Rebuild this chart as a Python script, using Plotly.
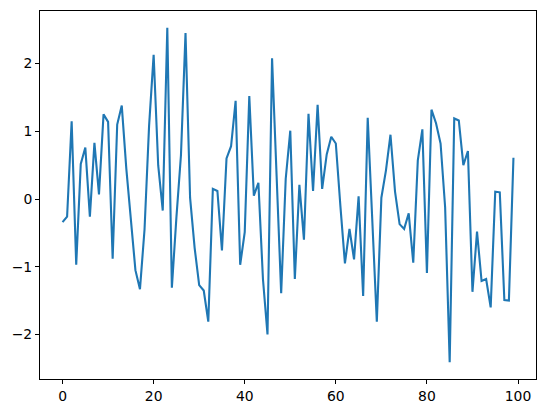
import plotly.graph_objects as go

x_values = list(range(100))
y_values = [
    -0.34, -0.26, 1.15, -0.97, 0.52, 0.76, -0.26, 0.83, 0.07, 1.25,
    1.14, -0.88, 1.10, 1.38, 0.45, -0.35, -1.05, -1.33, -0.45, 1.08,
    2.13, 0.50, -0.17, 2.53, -1.31, -0.27, 0.65, 2.45, 0.02, -0.72,
    -1.27, -1.35, -1.81, 0.15, 0.12, -0.76, 0.60, 0.78, 1.45, -0.97,
    -0.49, 1.52, 0.05, 0.24, -1.18, -2.00, 2.08, 0.34, -1.39, 0.30,
    1.01, -1.18, 0.21, -0.60, 1.26, 0.12, 1.39, 0.15, 0.66, 0.92,
    0.82, -0.10, -0.95, -0.44, -0.89, 0.04, -1.43, 1.20, -0.25, -1.81,
    0.02, 0.42, 0.95, 0.11, -0.37, -0.44, -0.21, -0.94, 0.57, 1.03,
    -1.09, 1.32, 1.12, 0.82, -0.12, -2.41, 1.19, 1.16, 0.50, 0.71,
    -1.37, -0.48, -1.21, -1.18, -1.60, 0.11, 0.10, -1.49, -1.50, 0.61,
]
x_ticks = [0, 20, 40, 60, 80, 100]
y_ticks = [-2, -1, 0, 1, 2]

# matplotlib-like 5% margins
xmin, xmax = min(x_values), max(x_values)
ymin, ymax = min(y_values), max(y_values)
xpad = 0.05 * (xmax - xmin)
ypad = 0.05 * (ymax - ymin)

fig = go.Figure()
fig.add_trace(go.Scatter(
    x=x_values, y=y_values, mode="lines",
    line=dict(color="#1f77b4", width=2.1),
    hoverinfo="skip",
))

axis_common = dict(
    showgrid=False, zeroline=False,
    showline=True, linecolor="black", linewidth=1, mirror=True,
    ticks="outside", ticklen=4, tickwidth=1, tickcolor="black",
    tickfont=dict(family="DejaVu Sans", size=13.9, color="black"),
)

# the page body has an 8px default margin; size the figure to fit the window
fig.update_layout(
    width=538, height=405,
    margin=dict(l=32, r=10, t=3, b=34),
    paper_bgcolor="white", plot_bgcolor="white",
    showlegend=False,
    xaxis=dict(range=[xmin - xpad, xmax + xpad], tickvals=x_ticks, **axis_common),
    yaxis=dict(range=[ymin - ypad, ymax + ypad], tickvals=y_ticks, **axis_common),
)

fig.write_html("out.html")
